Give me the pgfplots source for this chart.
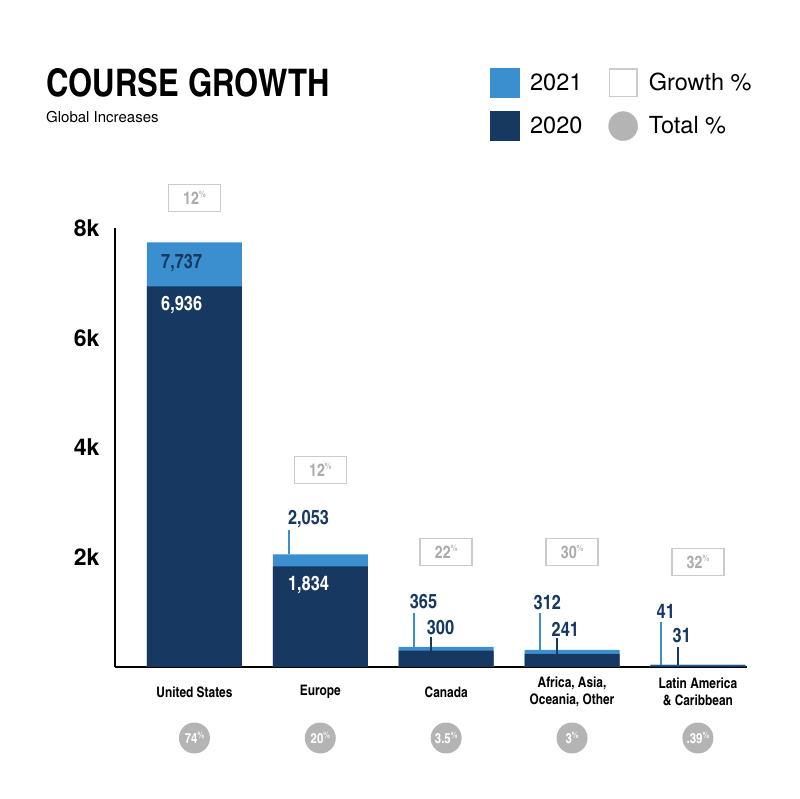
\documentclass[border=0pt]{standalone}
\usepackage{fontspec}
\setmainfont{TeX Gyre Heros}
\newfontfamily\cond{texgyreheroscn}[Extension=.otf, UprightFont=*-regular, BoldFont=*-bold]
\usepackage{pgfplots}
\pgfplotsset{compat=1.18}
\definecolor{c21}{HTML}{3B8FCE}
\definecolor{c20}{HTML}{163861}
\definecolor{gbox}{HTML}{CBCBCB}
\definecolor{gtxt}{HTML}{ABABAB}
\definecolor{gcirc}{HTML}{B4B4B4}
\newcommand{\pct}[1]{#1\raisebox{0.4em}{\fontsize{9}{9}\selectfont\%}}
\begin{document}
\begin{tikzpicture}
\useasboundingbox (0,0) rectangle (800pt,799pt);
\node[anchor=base west, inner sep=0pt] at (46pt,702pt) {\cond\bfseries\fontsize{38}{38}\selectfont COURSE GROWTH};
\node[anchor=base west, inner sep=0pt] at (46pt,676pt) {\fontsize{15}{15}\selectfont Global Increases};
\begin{axis}[
 at={(115pt,132pt)}, anchor=south west,
 scale only axis, width=632pt, height=439pt,
 xmin=-0.631, xmax=4.39, ymin=0, ymax=8000,
 axis x line=bottom, axis y line=left,
 axis line style={-, line width=1.6pt, black},
 xtick=\empty,
 ytick={2000,4000,6000,8000}, yticklabels={2k,4k,6k,8k},
 major tick length=0pt,
 yticklabel style={font=\fontsize{23}{23}\selectfont\bfseries, anchor=east, xshift=-12pt},
 clip=false,
 legend columns=2,
 legend cell align=left,
 legend style={draw=none, fill=none, inner sep=0pt, outer sep=0pt,
   at={(rel axis cs:0.593,1.3645)}, anchor=north west,
   row sep=14pt, font=\fontsize{23.5}{23.5}\selectfont,
   nodes={inner sep=0pt},
   /tikz/every odd column/.style={column sep=11pt},
   /tikz/every even column/.style={column sep=26pt}},
]
\addlegendimage{legend image code/.code={\fill[c21] (0pt,-14.5pt) rectangle (29pt,14.5pt);}}
\addlegendentry{2021}
\addlegendimage{legend image code/.code={\draw[gbox, line width=1.5pt] (0.75pt,-13.75pt) rectangle (28.25pt,13.75pt);}}
\addlegendentry{Growth \%}
\addlegendimage{legend image code/.code={\fill[c20] (0pt,-14.5pt) rectangle (29pt,14.5pt);}}
\addlegendentry{2020}
\addlegendimage{legend image code/.code={\fill[gcirc] (14.5pt,0pt) circle (14.5pt);}}
\addlegendentry{Total \%}

\addplot[ybar, bar width=95pt, bar shift=0pt, fill=c21, draw=none, forget plot]
 coordinates {(0,7737) (1,2053) (2,365) (3,312) (4,41)};
\addplot[ybar, bar width=95pt, bar shift=0pt, fill=c20, draw=none, forget plot]
 coordinates {(0,6936) (1,1834) (2,300) (3,241) (4,31)};

% leader lines
\draw[c21, line width=2pt] (axis cs:0.75,2053) -- (axis cs:0.75,2497);
\draw[c21, line width=2pt] (axis cs:1.742,365) -- (axis cs:1.742,984);
\draw[c20, line width=2pt] (axis cs:1.877,300) -- (axis cs:1.877,547);
\draw[c21, line width=2pt] (axis cs:2.742,312) -- (axis cs:2.742,984);
\draw[c20, line width=2pt] (axis cs:2.877,241) -- (axis cs:2.877,528);
\draw[c21, line width=2pt] (axis cs:3.710,41) -- (axis cs:3.710,820);
\draw[c20, line width=2pt] (axis cs:3.845,31) -- (axis cs:3.845,364);

% value labels
\begin{scope}[every node/.style={anchor=west, inner sep=0pt, font=\cond\bfseries\fontsize{20}{20}\selectfont}]
\node[text=c20] at (axis cs:-0.266,7362) {7,737};
\node[text=white] at (axis cs:-0.266,6597) {6,936};
\node[text=c20] at (axis cs:0.742,2697) {2,053};
\node[text=white] at (axis cs:0.742,1490) {1,834};
\node[text=c20] at (axis cs:1.710,1185) {365};
\node[text=c20] at (axis cs:1.845,710) {300};
\node[text=c20] at (axis cs:2.694,1166) {312};
\node[text=c20] at (axis cs:2.837,692) {241};
\node[text=c20] at (axis cs:3.671,1020) {41};
\node[text=c20] at (axis cs:3.798,565) {31};
\end{scope}

% growth boxes
\begin{scope}[every node/.style={draw=gbox, line width=1.5pt, minimum width=52pt, minimum height=27pt, inner sep=0pt, text=gtxt, font=\cond\bfseries\fontsize{17.5}{17.5}\selectfont}]
\node at (axis cs:0,8547) {\pct{12}};
\node at (axis cs:1,3590) {\pct{12}};
\node at (axis cs:2,2096) {\pct{22}};
\node at (axis cs:3,2096) {\pct{30}};
\node at (axis cs:4,1913) {\pct{32}};
\end{scope}

% category labels
\begin{scope}[every node/.style={align=center, inner sep=0pt, font=\cond\bfseries\fontsize{14.5}{17.5}\selectfont}]
\node at (axis cs:0,-456) {United States};
\node at (axis cs:1,-456) {Europe};
\node at (axis cs:2,-456) {Canada};
\node at (axis cs:3,-456) {Africa, Asia,\\Oceania, Other};
\node at (axis cs:4,-456) {Latin America\\\& Caribbean};
\end{scope}

% total circles
\begin{scope}[every node/.style={circle, fill=gcirc, minimum size=31pt, inner sep=0pt, text=white, font=\cond\bfseries\fontsize{14}{14}\selectfont}]
\node at (axis cs:0,-1294) {\pct{74}};
\node at (axis cs:1,-1294) {\pct{20}};
\node at (axis cs:2,-1294) {\pct{3.5}};
\node at (axis cs:3,-1294) {\pct{3}};
\node at (axis cs:4,-1294) {\pct{.39}};
\end{scope}
\end{axis}
\end{tikzpicture}
\end{document}
